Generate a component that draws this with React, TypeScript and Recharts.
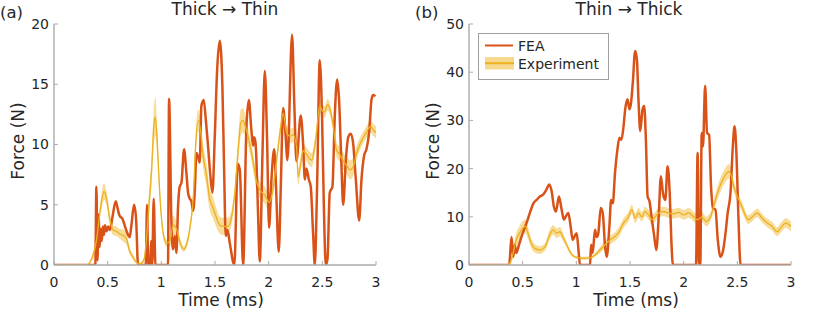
import { ComposedChart, Line, Area, XAxis, YAxis, Legend } from "recharts";

const ORANGE = "#D95319";
const GOLD = "#EDB120";
const INK = "#262626";
const AXIS = "#ababab";
const FONT = "'DejaVu Sans', Verdana, sans-serif";

const timeTicks = [0, 0.5, 1, 1.5, 2, 2.5, 3];
const forceTicksA = [0, 5, 10, 15, 20];
const forceTicksB = [0, 10, 20, 30, 40, 50];

// [time (ms), force (N)]
const feaA = [
  [0, 0], [0.385, 0], [0.395, 6.5], [0.405, 0.4], [0.415, 4.2], [0.425, 1.5], [0.435, 3.0],
  [0.445, 2.0], [0.455, 3.2], [0.465, 2.5], [0.475, 3.3], [0.49, 2.8], [0.505, 3.2], [0.52, 2.9],
  [0.545, 4.0], [0.575, 5.3], [0.59, 4.8], [0.61, 4.1], [0.64, 3.8], [0.665, 3.1], [0.69, 2.5],
  [0.705, 2.3], [0.72, 3.2], [0.746, 5.0], [0.765, 3.8], [0.783, 0], [0.855, 0], [0.867, 5.0],
  [0.877, 0], [0.895, 0], [0.905, 2.0], [0.915, 0], [0.929, 5.5], [0.945, 0], [1.062, 0],
  [1.072, 13.8], [1.094, 3.5], [1.109, 1.3], [1.125, 2.4], [1.14, 1.0], [1.156, 4.9], [1.171, 6.5],
  [1.187, 6.8], [1.212, 9.6], [1.234, 7.6], [1.249, 6.0], [1.265, 5.5], [1.28, 5.3], [1.296, 4.5],
  [1.311, 6.0], [1.327, 9.3], [1.342, 9.0], [1.358, 8.5], [1.373, 13.2], [1.395, 13.7], [1.414, 12.1],
  [1.436, 9.8], [1.457, 7.4], [1.476, 6.0], [1.498, 10.7], [1.52, 16.2], [1.544, 18.6], [1.569, 14.8],
  [1.585, 7.9], [1.6, 2.4], [1.616, 2.9], [1.638, 1.8], [1.68, 0], [1.712, 8.4], [1.731, 7.9],
  [1.762, 0], [1.793, 11.5], [1.815, 13.7], [1.839, 11.2], [1.855, 9.9], [1.864, 10.6], [1.877, 10.2],
  [1.886, 8.7], [1.902, 4.0], [1.917, 0.3], [1.942, 9.1], [1.964, 16.1], [1.985, 10.5], [2.004, 3.1],
  [2.026, 7.1], [2.051, 9.6], [2.066, 7.1], [2.094, 1.1], [2.113, 6.5], [2.135, 13.0], [2.156, 11.0],
  [2.175, 8.7], [2.218, 19.1], [2.24, 13.0], [2.259, 8.6], [2.299, 12.4], [2.321, 10.0], [2.337, 7.1],
  [2.352, 8.0], [2.374, 7.1], [2.392, 6.5], [2.414, 2.6], [2.43, 0], [2.451, 6.5], [2.476, 17.0],
  [2.498, 12.0], [2.514, 5.0], [2.532, 0], [2.548, 0.5], [2.569, 6.0], [2.594, 6.5], [2.616, 12.4],
  [2.638, 15.4], [2.656, 13.7], [2.678, 8.3], [2.694, 5.0], [2.719, 8.7], [2.741, 10.6], [2.765, 10.9],
  [2.787, 10.1], [2.812, 7.1], [2.843, 3.7], [2.865, 7.1], [2.89, 9.1], [2.911, 9.6], [2.936, 11.0],
  [2.958, 13.7], [2.973, 14.1], [2.995, 14.0],
];

// [time (ms), mean force (N), band half-width (N)]
const expA = [
  [0, 0, 0], [0.3, 0, 0], [0.35, 0.5, 0.2], [0.395, 2.0, 0.4], [0.43, 4.5, 0.6], [0.466, 6.1, 0.7],
  [0.49, 5.5, 0.6], [0.52, 3.8, 0.5], [0.55, 2.9, 0.4], [0.58, 2.8, 0.4], [0.61, 2.6, 0.4],
  [0.65, 2.4, 0.5], [0.675, 2.2, 0.5], [0.7, 1.3, 0.3], [0.74, 0.6, 0.2], [0.77, 0.2, 0.1],
  [0.8, 0.1, 0.1], [0.84, 0.5, 0.2], [0.86, 2.0, 0.6], [0.885, 5.0, 1.0], [0.91, 8.0, 1.2],
  [0.93, 11.5, 1.5], [0.945, 12.3, 1.6], [0.963, 10.0, 1.2], [0.985, 6.0, 0.8], [1.02, 2.5, 0.4],
  [1.05, 1.8, 0.3], [1.08, 2.0, 0.5], [1.11, 3.3, 0.8], [1.14, 3.0, 0.6], [1.17, 2.0, 0.4],
  [1.21, 1.3, 0.2], [1.23, 1.6, 0.3], [1.265, 3.0, 0.4], [1.3, 6.0, 0.6], [1.32, 10.0, 0.9],
  [1.345, 12.0, 0.9], [1.365, 11.2, 0.9], [1.39, 9.0, 1.0], [1.42, 7.5, 1.0], [1.45, 5.5, 0.9],
  [1.48, 4.8, 0.9], [1.51, 4.0, 0.8], [1.545, 3.3, 0.7], [1.58, 3.2, 0.7], [1.62, 3.2, 0.7],
  [1.655, 4.0, 0.6], [1.685, 6.0, 0.7], [1.72, 10.0, 1.0], [1.74, 11.8, 1.1], [1.76, 12.0, 1.0],
  [1.79, 11.3, 0.8], [1.825, 10.0, 0.7], [1.855, 8.6, 0.7], [1.885, 7.0, 0.7], [1.92, 6.2, 0.7],
  [1.965, 5.8, 0.7], [2.005, 5.2, 0.8], [2.04, 6.3, 0.7], [2.074, 8.7, 0.6], [2.11, 11.3, 0.6],
  [2.135, 12.6, 0.6], [2.167, 11.0, 0.6], [2.2, 10.7, 0.6], [2.23, 10.8, 0.6], [2.26, 9.8, 0.7],
  [2.274, 7.3, 0.7], [2.3, 8.5, 0.6], [2.32, 9.5, 0.6], [2.35, 9.2, 0.6], [2.4, 8.7, 0.6],
  [2.44, 10.5, 0.6], [2.476, 13.2, 0.6], [2.5, 12.8, 0.5], [2.52, 12.7, 0.5], [2.55, 13.3, 0.5],
  [2.58, 12.6, 0.5], [2.61, 11.0, 0.6], [2.63, 9.6, 0.6], [2.66, 9.2, 0.6], [2.69, 8.7, 0.7],
  [2.73, 8.2, 0.7], [2.76, 7.9, 0.8], [2.79, 8.2, 0.7], [2.82, 9.3, 0.6], [2.865, 10.3, 0.5],
  [2.91, 11.0, 0.5], [2.95, 11.5, 0.5], [2.975, 11.2, 0.5], [3.0, 11.0, 0.5],
];

const feaB = [
  [0, 0], [0.374, 0], [0.396, 5.8], [0.412, 1.7], [0.427, 4.2], [0.44, 2.5], [0.47, 4.5], [0.5, 6.6],
  [0.536, 8.7], [0.567, 10.8], [0.6, 12.8], [0.63, 13.5], [0.66, 14.2], [0.69, 14.6], [0.72, 15.6],
  [0.748, 16.7], [0.77, 15.3], [0.79, 12.2], [0.81, 11.1], [0.838, 14.2], [0.863, 11.5], [0.885, 9.4],
  [0.9, 10.0], [0.925, 10.8], [0.947, 8.0], [0.966, 5.2], [0.99, 6.25], [1.003, 6.6], [1.02, 3.1],
  [1.034, 0], [1.128, 0], [1.137, 4.2], [1.152, 2.5], [1.174, 7.3], [1.19, 5.8], [1.205, 6.6],
  [1.227, 11.8], [1.246, 10.8], [1.268, 3.8], [1.283, 1.7], [1.308, 8.0], [1.324, 13.5], [1.34, 12.8],
  [1.36, 19.0], [1.383, 24.0], [1.402, 26.4], [1.42, 26.0], [1.44, 28.8], [1.455, 32.3], [1.477, 34.4],
  [1.495, 32.3], [1.51, 33.7], [1.526, 37.8], [1.548, 44.4], [1.564, 42.7], [1.58, 33.7], [1.595, 27.8],
  [1.617, 32.3], [1.632, 33.0], [1.648, 26.0], [1.664, 14.2], [1.682, 13.2], [1.704, 9.4], [1.726, 5.9],
  [1.745, 3.1], [1.766, 9.4], [1.788, 18.4], [1.807, 14.9], [1.829, 13.5], [1.85, 20.5], [1.87, 14.9],
  [1.885, 5.2], [1.9, 0], [2.115, 0], [2.13, 23.3], [2.143, 0], [2.155, 0], [2.168, 27.4], [2.18, 24.6],
  [2.2, 37.2], [2.218, 27.4], [2.237, 27.0], [2.255, 16.3], [2.274, 11.8], [2.296, 11.5], [2.318, 5.2],
  [2.343, 1.7], [2.368, 3.1], [2.39, 6.6], [2.41, 10.8], [2.436, 14.9], [2.458, 24.6], [2.474, 28.8],
  [2.49, 24.0], [2.51, 10.0], [2.53, 0], [3, 0],
];

const expB = [
  [0, 0, 0], [0.35, 0, 0], [0.38, 0.35, 0.3], [0.41, 2.4, 1.0], [0.44, 5.2, 1.4], [0.47, 6.6, 1.5],
  [0.5, 7.6, 1.5], [0.527, 8.0, 1.4], [0.55, 6.6, 1.2], [0.58, 4.5, 1.0], [0.61, 3.5, 0.9],
  [0.66, 3.1, 0.8], [0.71, 3.8, 0.8], [0.75, 6.2, 1.0], [0.785, 7.3, 1.0], [0.816, 6.6, 1.0],
  [0.847, 6.9, 1.0], [0.88, 5.6, 0.8], [0.91, 4.2, 0.6], [0.94, 2.8, 0.5], [0.97, 1.9, 0.3],
  [1.0, 1.6, 0.3], [1.065, 1.4, 0.3], [1.128, 1.5, 0.3], [1.174, 2.1, 0.4], [1.22, 3.1, 0.6],
  [1.268, 4.2, 0.8], [1.315, 5.2, 0.9], [1.36, 5.9, 0.9], [1.39, 6.6, 1.0], [1.44, 8.7, 1.0],
  [1.486, 10.0, 1.0], [1.517, 11.5, 1.0], [1.548, 9.7, 1.0], [1.58, 10.8, 1.0], [1.61, 10.0, 1.0],
  [1.64, 11.1, 1.0], [1.673, 10.4, 1.0], [1.704, 9.4, 1.0], [1.735, 10.0, 1.0], [1.766, 10.8, 1.0],
  [1.813, 11.1, 1.0], [1.86, 10.8, 1.0], [1.9, 10.6, 1.0], [1.953, 10.9, 1.0], [2.0, 10.4, 1.0],
  [2.047, 10.8, 1.0], [2.093, 10.0, 1.0], [2.13, 9.4, 1.0], [2.17, 10.0, 1.0], [2.21, 9.0, 1.0],
  [2.25, 10.0, 1.0], [2.28, 12.2, 1.2], [2.31, 14.6, 1.4], [2.35, 17.0, 1.5], [2.39, 18.75, 1.5],
  [2.42, 19.4, 1.5], [2.44, 18.8, 1.4], [2.467, 16.3, 1.2], [2.5, 14.2, 1.0], [2.53, 12.8, 1.0],
  [2.56, 11.1, 1.0], [2.6, 9.4, 0.9], [2.64, 10.0, 0.9], [2.685, 10.8, 0.9], [2.73, 9.7, 0.9],
  [2.78, 8.7, 0.9], [2.825, 8.0, 0.9], [2.87, 6.9, 0.9], [2.9, 7.6, 1.0], [2.95, 8.7, 1.0],
  [3.0, 8.0, 1.0],
];

function LegendBox() {
  return (
    <svg width={131} height={47} style={{ display: "block" }}>
      <rect x={0.5} y={0.5} width={130} height={46} fill="#fff" stroke="#a0a0a0" />
      <line x1={7} x2={35} y1={12.5} y2={12.5} stroke={ORANGE} strokeWidth={2} />
      <text x={40} y={13} dominantBaseline="central" fontSize={14} fontFamily={FONT} fill={INK}>FEA</text>
      <rect x={7} y={24} width={29} height={12.5} fill={GOLD} fillOpacity={0.5} />
      <line x1={7} x2={36} y1={30.2} y2={30.2} stroke={GOLD} strokeWidth={2} />
      <text x={40} y={30.5} dominantBaseline="central" fontSize={14} fontFamily={FONT} fill={INK}>Experiment</text>
    </svg>
  );
}

function Panel({ fea, exp, yMax, yTicks, title, titleX, tag, showLegend }) {
  const feaData = fea.map(([t, f]) => ({ t, f }));
  const expData = exp.map(([t, e, s]) => ({ t, e, band: [Math.max(0, e - s), e + s] }));
  const tick = { fill: INK, fontSize: 14, fontFamily: FONT };

  return (
    <div style={{ position: "relative", width: 415, height: 314 }}>
      <ComposedChart width={415} height={314} margin={{ top: 24, right: 39, bottom: 19, left: 24 }}>
        <XAxis
          dataKey="t"
          type="number"
          domain={[0, 3]}
          ticks={timeTicks}
          height={30}
          tick={tick}
          tickSize={-4}
          tickMargin={16}
          tickLine={{ stroke: AXIS }}
          axisLine={{ stroke: AXIS, strokeWidth: 1.4 }}
          allowDataOverflow
        />
        <YAxis
          type="number"
          domain={[0, yMax]}
          ticks={yTicks}
          width={30}
          tick={tick}
          tickSize={-4}
          tickMargin={9}
          tickLine={{ stroke: AXIS }}
          axisLine={{ stroke: AXIS, strokeWidth: 1.4 }}
          allowDataOverflow
        />
        <Line data={feaData} dataKey="f" type="monotone" stroke={ORANGE} strokeWidth={2.5}
          dot={false} activeDot={false} isAnimationActive={false} />
        <Area data={expData} dataKey="band" type="monotone" stroke="none" fill={GOLD}
          fillOpacity={0.45} isAnimationActive={false} />
        <Line data={expData} dataKey="e" type="monotone" stroke={GOLD} strokeWidth={1.3}
          dot={false} activeDot={false} isAnimationActive={false} />
        {showLegend && (
          <Legend
            layout="vertical"
            align="center"
            verticalAlign="middle"
            wrapperStyle={{ left: 63, top: 33, width: 131, height: 47 }}
            content={() => <LegendBox />}
          />
        )}
      </ComposedChart>
      <svg width={415} height={314} style={{ position: "absolute", left: 0, top: 0, pointerEvents: "none" }}>
        <text x={0} y={18} fontSize={16.5} fontFamily={FONT} fill={INK}>{tag}</text>
        <text x={titleX} y={15} textAnchor="middle" fontSize={17} fontFamily={FONT} fill={INK}>{title}</text>
        <text x={221} y={306} textAnchor="middle" fontSize={17} fontFamily={FONT} fill={INK}>Time (ms)</text>
        <text x={24} y={141} textAnchor="middle" transform="rotate(-90 24 141)" fontSize={17}
          fontFamily={FONT} fill={INK}>Force (N)</text>
      </svg>
    </div>
  );
}

export default function App() {
  return (
    <div style={{ position: "absolute", left: 0, top: 0, width: 830, height: 314, background: "#fff", display: "flex" }}>
      <Panel fea={feaA} exp={expA} yMax={20} yTicks={forceTicksA} title="Thick → Thin" titleX={225} tag="(a)" showLegend={false} />
      <Panel fea={feaB} exp={expB} yMax={50} yTicks={forceTicksB} title="Thin → Thick" titleX={214} tag="(b)" showLegend />
    </div>
  );
}
